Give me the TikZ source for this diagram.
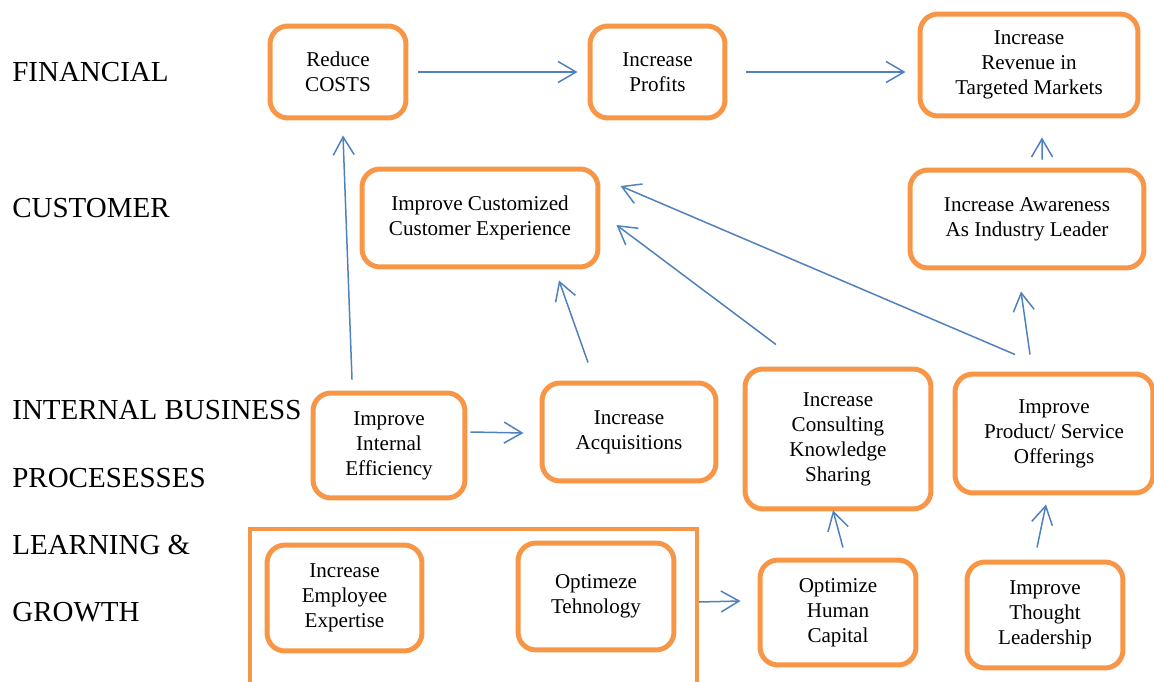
\documentclass[tikz,border=0pt]{standalone}
\usepackage{fontspec}
\setmainfont{Liberation Serif}
\usepackage{tikz}
\usetikzlibrary{arrows.meta,positioning}

\definecolor{boxorange}{HTML}{F79646}
\definecolor{arrowblue}{HTML}{4F81BD}

\tikzset{
  box/.style={draw=boxorange, line width=0.1cm, rounded corners=0.36cm,
    align=center, inner sep=0pt, font=\fontsize{12}{14.2}\selectfont},
  persp/.style={anchor=base west, inner sep=0pt, font=\fontsize{16.5}{18}\selectfont},
  arr/.style={draw=arrowblue, line width=0.03cm,
    -{Straight Barb[length=0.36cm,width=0.42cm,line width=0.03cm]}}
}

\begin{document}
\begin{tikzpicture}[x=0.02cm, y=-0.02cm]
\useasboundingbox (0,0) rectangle (1154,682);

% perspectives
\node[persp] (fin)  at (12,82)  {FINANCIAL};
\node[persp] (cus)  at (12,218) {CUSTOMER};
\node[persp] (ib1)  at (12,419) {INTERNAL BUSINESS};
\node[persp] (ib2)  at (12,487) {PROCESESSES};
\node[persp] (lg1)  at (12,555) {LEARNING \&};
\node[persp] (lg2)  at (12,622) {GROWTH};

% objectives
\foreach \name/\x/\y/\w/\h/\txt in {
  cost/338/72/2.72/1.84/{Reduce\\COSTS},
  profit/657.5/72/2.70/1.84/{Increase\\Profits},
  revenue/1029/65/4.36/2.04/{Increase\\Revenue in\\Targeted Markets},
  custexp/480/218/4.72/1.96/{Improve Customized\\Customer Experience},
  aware/1027/219/4.68/1.96/{Increase Awareness\\As Industry Leader},
  effic/389/445.5/3.04/2.10/{Improve\\Internal\\Efficiency},
  acq/629/432/3.48/1.96/{Increase\\Acquisitions},
  consult/838/439/3.72/2.80/{Increase\\Consulting\\Knowledge\\Sharing},
  product/1054/433.5/3.96/2.38/{Improve\\Product/ Service\\Offerings},
  expert/344.5/598/3.10/2.12/{Increase\\Employee\\Expertise},
  tech/596/596.5/3.12/2.14/{Optimeze\\Tehnology},
  human/838/612.5/3.12/2.10/{Optimize\\Human\\Capital},
  thought/1045/615/3.12/2.12/{Improve\\Thought\\Leadership}} {
  \node[box, minimum width=\w cm, minimum height=\h cm] (\name) at (\x,\y) {\txt};
}

% learning & growth group
\node[draw=boxorange, line width=0.08cm, minimum width=8.94cm, minimum height=3.42cm,
  inner sep=0pt] (grp) at (473.5,614.5) {};

% links
\draw[arr, shorten <=0.2cm, shorten >=0.2cm] (cost.east) -- (profit.west);
\draw[arr, shorten <=0.38cm, shorten >=0.24cm] (profit.east) -- (profit.east -| revenue.west);
\draw[arr] ([xshift=0.3cm,yshift=0.16cm]aware.north) -- ([xshift=0.26cm,yshift=-0.38cm]revenue.south);
\draw[arr] ([xshift=-0.48cm,yshift=0.34cm]product.north) -- ([xshift=-0.12cm,yshift=-0.42cm]aware.south);
\draw[arr] ([xshift=-0.78cm,yshift=0.34cm]product.north) -- ([xshift=0.4cm,yshift=0.64cm]custexp.east);
\draw[arr] ([xshift=-1.24cm,yshift=0.44cm]consult.north) -- ([xshift=0.32cm,yshift=-0.14cm]custexp.east);
\draw[arr] ([xshift=-0.82cm,yshift=0.36cm]acq.north) -- ([xshift=1.58cm,yshift=-0.22cm]custexp.south);
\draw[arr] ([xshift=-0.74cm,yshift=0.22cm]effic.north) -- ([xshift=0.1cm,yshift=-0.3cm]cost.south);
\draw[arr] ([xshift=0.06cm,yshift=0.27cm]effic.east) -- ([xshift=-0.32cm,yshift=-0.02cm]acq.west);
\draw[arr] ([yshift=0.25cm]grp.east) -- ([xshift=-0.34cm,yshift=0.23cm]human.west);
\draw[arr] ([xshift=0.1cm,yshift=0.2cm]human.north) -- ([xshift=-0.1cm,yshift=0.02cm]consult.south);
\draw[arr] ([xshift=-0.16cm,yshift=0.24cm]thought.north) -- ([xshift=-0.16cm,yshift=-0.18cm]product.south);
\end{tikzpicture}
\end{document}
